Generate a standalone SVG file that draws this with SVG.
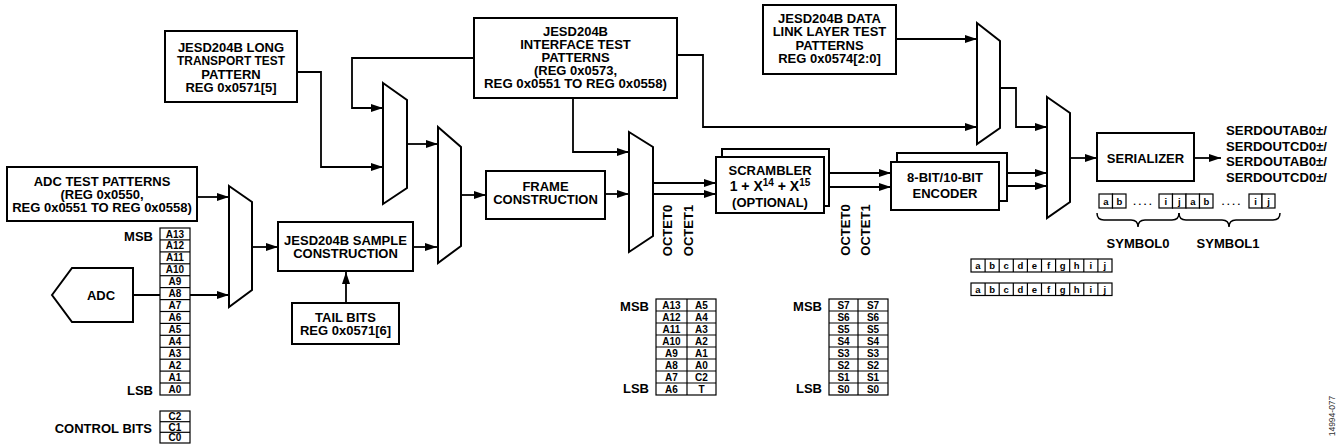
<svg xmlns="http://www.w3.org/2000/svg" width="1339" height="448" viewBox="0 0 1339 448">
<defs>
<marker id="arr" markerUnits="userSpaceOnUse" markerWidth="13" markerHeight="9" refX="12" refY="4.5" orient="auto">
<path d="M0,0.5 L12,4.5 L0,8.5 z" fill="#000"/>
</marker>
<style>
.box{fill:#fff;stroke:#000;stroke-width:2}
.mux{fill:#fff;stroke:#000;stroke-width:2;stroke-linejoin:miter}
.ln{fill:none;stroke:#000;stroke-width:1.8}
.la{fill:none;stroke:#000;stroke-width:1.8;marker-end:url(#arr)}
.t{font-family:"Liberation Sans",Arial,sans-serif;font-weight:bold;font-size:13px;fill:#000;text-anchor:middle}
.tl{font-family:"Liberation Sans",Arial,sans-serif;font-weight:bold;font-size:13px;fill:#000;text-anchor:end}
.ts{font-family:"Liberation Sans",Arial,sans-serif;font-weight:bold;font-size:13px;fill:#000;text-anchor:start}
.cell{fill:#fff;stroke:#000;stroke-width:1.2}
.ct{font-family:"Liberation Sans",Arial,sans-serif;font-weight:bold;font-size:10px;fill:#000;text-anchor:middle}
.bt{font-family:"Liberation Sans",Arial,sans-serif;font-weight:bold;font-size:9.5px;fill:#000;text-anchor:middle}
.brace{fill:none;stroke:#000;stroke-width:1.5}
</style>
</defs>
<rect width="1339" height="448" fill="#fff"/>

<g id="connectors">
<line class="la" x1="197" y1="197" x2="229" y2="197"/>
<line class="la" x1="133" y1="295" x2="229" y2="295"/>
<line class="la" x1="252" y1="247" x2="278" y2="247"/>
<line class="la" x1="413" y1="247" x2="437" y2="247"/>
<line class="la" x1="346" y1="303" x2="346" y2="272"/>
<polyline class="la" points="297,72 321,72 321,167 383,167"/>
<polyline class="la" points="474,58 352,58 352,108 383,108"/>
<line class="la" x1="407" y1="144" x2="438" y2="144"/>
<line class="la" x1="461" y1="195" x2="486" y2="195"/>
<line class="la" x1="605" y1="194" x2="629" y2="194"/>
<polyline class="la" points="573,98 573,152 629,152"/>
<polyline class="la" points="677,55 703,55 703,127 977,127"/>
<line class="la" x1="653" y1="183" x2="716" y2="183"/>
<line class="la" x1="653" y1="194" x2="716" y2="194"/>
<line class="la" x1="829" y1="173" x2="891" y2="173"/>
<line class="la" x1="829" y1="187" x2="891" y2="187"/>
<line class="la" x1="896" y1="39" x2="977" y2="39"/>
<polyline class="la" points="1000,88 1016,88 1016,127 1047,127"/>
<line class="la" x1="1007" y1="173" x2="1047" y2="173"/>
<line class="la" x1="1007" y1="186" x2="1047" y2="186"/>
<line class="la" x1="1070" y1="158" x2="1097" y2="158"/>
<line class="la" x1="1194" y1="158" x2="1221" y2="158"/>
</g>

<g id="mux1"><polygon class="mux" points="229,186 252,202 252,290 229,307"/></g>
<g id="mux2"><polygon class="mux" points="383,83 407,100 407,188 383,204"/></g>
<g id="mux3"><polygon class="mux" points="438,127 461,147 461,246 438,263"/></g>
<g id="mux4"><polygon class="mux" points="629,132 653,147 653,236 629,252"/></g>
<g id="mux5"><polygon class="mux" points="977,23 1000,41 1000,128 977,144"/></g>
<g id="mux6"><polygon class="mux" points="1047,97 1070,113 1070,202 1047,218"/></g>

<g id="adc-test-patterns">
<rect class="box" x="7" y="167" width="190" height="54"/>
<text class="t" x="102" y="185.5">ADC TEST PATTERNS</text>
<text class="t" x="102" y="198.5">(REG 0x0550,</text>
<text class="t" x="102" y="211.5">REG 0x0551 TO REG 0x0558)</text>
</g>

<g id="adc">
<polygon class="box" points="52,295 72,268 133,268 133,322 72,322"/>
<text class="t" x="101" y="299.5">ADC</text>
</g>

<g id="adc-bits">
<rect class="cell" x="160" y="228" width="30" height="167"/>
<g class="ln" style="stroke-width:1.2">
<line x1="160" y1="239.9" x2="190" y2="239.9"/>
<line x1="160" y1="251.9" x2="190" y2="251.9"/>
<line x1="160" y1="263.8" x2="190" y2="263.8"/>
<line x1="160" y1="275.7" x2="190" y2="275.7"/>
<line x1="160" y1="287.6" x2="190" y2="287.6"/>
<line x1="160" y1="299.6" x2="190" y2="299.6"/>
<line x1="160" y1="311.5" x2="190" y2="311.5"/>
<line x1="160" y1="323.4" x2="190" y2="323.4"/>
<line x1="160" y1="335.3" x2="190" y2="335.3"/>
<line x1="160" y1="347.3" x2="190" y2="347.3"/>
<line x1="160" y1="359.2" x2="190" y2="359.2"/>
<line x1="160" y1="371.1" x2="190" y2="371.1"/>
<line x1="160" y1="383.0" x2="190" y2="383.0"/>
</g>
<text class="ct" x="175" y="237.5">A13</text>
<text class="ct" x="175" y="249.4">A12</text>
<text class="ct" x="175" y="261.3">A11</text>
<text class="ct" x="175" y="273.2">A10</text>
<text class="ct" x="175" y="285.2">A9</text>
<text class="ct" x="175" y="297.1">A8</text>
<text class="ct" x="175" y="309">A7</text>
<text class="ct" x="175" y="320.9">A6</text>
<text class="ct" x="175" y="332.9">A5</text>
<text class="ct" x="175" y="344.8">A4</text>
<text class="ct" x="175" y="356.7">A3</text>
<text class="ct" x="175" y="368.6">A2</text>
<text class="ct" x="175" y="380.6">A1</text>
<text class="ct" x="175" y="392.5">A0</text>
<text class="tl" x="153" y="240.5">MSB</text>
<text class="tl" x="153" y="394.5">LSB</text>
</g>

<g id="control-bits">
<rect class="cell" x="160" y="411" width="30" height="32"/>
<line class="ln" style="stroke-width:1.2" x1="160" y1="421.7" x2="190" y2="421.7"/>
<line class="ln" style="stroke-width:1.2" x1="160" y1="432.3" x2="190" y2="432.3"/>
<text class="ct" x="175" y="420">C2</text>
<text class="ct" x="175" y="430.5">C1</text>
<text class="ct" x="175" y="441">C0</text>
<text class="tl" x="152" y="432.5">CONTROL BITS</text>
</g>

<g id="long-transport">
<rect class="box" x="165" y="31" width="132" height="71"/>
<text class="t" x="231" y="51.5">JESD204B LONG</text>
<text class="t" x="231" y="65" textLength="108" lengthAdjust="spacingAndGlyphs">TRANSPORT TEST</text>
<text class="t" x="231" y="78.5">PATTERN</text>
<text class="t" x="231" y="92">REG 0x0571[5]</text>
</g>

<g id="sample-construction">
<rect class="box" x="278" y="222" width="135" height="49"/>
<text class="t" x="345.5" y="245">JESD204B SAMPLE</text>
<text class="t" x="345.5" y="258">CONSTRUCTION</text>
</g>

<g id="tail-bits">
<rect class="box" x="292" y="303" width="107" height="41"/>
<text class="t" x="345.5" y="321.5">TAIL BITS</text>
<text class="t" x="345.5" y="334.5">REG 0x0571[6]</text>
</g>

<g id="interface-test">
<rect class="box" x="474" y="18" width="203" height="80"/>
<text class="t" x="575.5" y="35.5">JESD204B</text>
<text class="t" x="575.5" y="48.5">INTERFACE TEST</text>
<text class="t" x="575.5" y="61.5">PATTERNS</text>
<text class="t" x="575.5" y="75">(REG 0x0573,</text>
<text class="t" x="575.5" y="88" textLength="183" lengthAdjust="spacingAndGlyphs">REG 0x0551 TO REG 0x0558)</text>
</g>

<g id="frame-construction">
<rect class="box" x="486" y="171" width="119" height="48"/>
<text class="t" x="545.5" y="190.5">FRAME</text>
<text class="t" x="545.5" y="203.5">CONSTRUCTION</text>
</g>

<g id="octet-labels-1">
<text class="t" transform="translate(672,230.5) rotate(-90)">OCTET0</text>
<text class="t" transform="translate(692.5,230.5) rotate(-90)">OCTET1</text>
</g>

<g id="scrambler">
<rect class="box" x="722" y="149" width="107" height="57"/>
<rect class="box" x="716" y="157" width="108" height="56"/>
<text class="t" x="770" y="174.5">SCRAMBLER</text>
<text class="t" x="770" y="190.5" style="font-size:14px">1 + X<tspan font-size="10" dy="-5">14</tspan><tspan dy="5"> + X</tspan><tspan font-size="10" dy="-5">15</tspan></text>
<text class="t" x="770" y="206.5">(OPTIONAL)</text>
</g>

<g id="octet-labels-2">
<text class="t" transform="translate(849.5,230) rotate(-90)">OCTET0</text>
<text class="t" transform="translate(869.5,230) rotate(-90)">OCTET1</text>
</g>

<g id="dll-test">
<rect class="box" x="763" y="5" width="133" height="69"/>
<text class="t" x="829.5" y="22.5">JESD204B DATA</text>
<text class="t" x="829.5" y="36">LINK LAYER TEST</text>
<text class="t" x="829.5" y="49.5">PATTERNS</text>
<text class="t" x="829.5" y="63">REG 0x0574[2:0]</text>
</g>

<g id="encoder">
<rect class="box" x="897" y="153" width="110" height="48"/>
<rect class="box" x="891" y="162" width="108" height="48"/>
<text class="t" x="945" y="181.5">8-BIT/10-BIT</text>
<text class="t" x="945" y="197.5">ENCODER</text>
</g>

<g id="serializer">
<rect class="box" x="1097" y="133" width="97" height="48"/>
<text class="t" x="1145.5" y="162.5">SERIALIZER</text>
</g>

<g id="serdout">
<text class="ts" x="1226" y="135" textLength="101" lengthAdjust="spacingAndGlyphs">SERDOUTAB0±/</text>
<text class="ts" x="1226" y="150.5" textLength="101" lengthAdjust="spacingAndGlyphs">SERDOUTCD0±/</text>
<text class="ts" x="1226" y="166" textLength="101" lengthAdjust="spacingAndGlyphs">SERDOUTAB0±/</text>
<text class="ts" x="1226" y="182" textLength="101" lengthAdjust="spacingAndGlyphs">SERDOUTCD0±/</text>
</g>

<g id="symbol-bits">
<rect class="cell" x="1099" y="194" width="13.5" height="14"/>
<rect class="cell" x="1112.5" y="194" width="13.5" height="14"/>
<rect class="cell" x="1159" y="194" width="13.5" height="14"/>
<rect class="cell" x="1172.5" y="194" width="13.5" height="14"/>
<rect class="cell" x="1186" y="194" width="13.5" height="14"/>
<rect class="cell" x="1199.5" y="194" width="13.5" height="14"/>
<rect class="cell" x="1249" y="194" width="13" height="14"/>
<rect class="cell" x="1262" y="194" width="13" height="14"/>
<text class="bt" x="1105.8" y="204.5">a</text>
<text class="bt" x="1119.3" y="204.5">b</text>
<text class="bt" x="1142.5" y="205">. . . .</text>
<text class="bt" x="1165.8" y="204.5">i</text>
<text class="bt" x="1179.3" y="204.5">j</text>
<text class="bt" x="1192.8" y="204.5">a</text>
<text class="bt" x="1206.3" y="204.5">b</text>
<text class="bt" x="1231" y="205">. . . .</text>
<text class="bt" x="1255.5" y="204.5">i</text>
<text class="bt" x="1268.5" y="204.5">j</text>
<path class="brace" d="M1097,213 Q1097,220 1104,220 L1131,220 Q1138,220 1138,227 Q1138,220 1145,220 L1172,220 Q1179,220 1179,213"/>
<path class="brace" d="M1179,213 Q1179,220 1186,220 L1222,220 Q1229,220 1229,227 Q1229,220 1236,220 L1273,220 Q1280,220 1280,213"/>
<text class="t" x="1138" y="248">SYMBOL0</text>
<text class="t" x="1228" y="248">SYMBOL1</text>
</g>

<g id="bit-rows">
<rect class="cell" x="971" y="259" width="141" height="13"/>
<rect class="cell" x="971" y="283" width="141" height="12.5"/>
<g class="ln" style="stroke-width:1.2">
<line x1="985.1" y1="259" x2="985.1" y2="272"/><line x1="999.2" y1="259" x2="999.2" y2="272"/><line x1="1013.3" y1="259" x2="1013.3" y2="272"/><line x1="1027.4" y1="259" x2="1027.4" y2="272"/><line x1="1041.5" y1="259" x2="1041.5" y2="272"/><line x1="1055.6" y1="259" x2="1055.6" y2="272"/><line x1="1069.7" y1="259" x2="1069.7" y2="272"/><line x1="1083.8" y1="259" x2="1083.8" y2="272"/><line x1="1097.9" y1="259" x2="1097.9" y2="272"/>
<line x1="985.1" y1="283" x2="985.1" y2="295.5"/><line x1="999.2" y1="283" x2="999.2" y2="295.5"/><line x1="1013.3" y1="283" x2="1013.3" y2="295.5"/><line x1="1027.4" y1="283" x2="1027.4" y2="295.5"/><line x1="1041.5" y1="283" x2="1041.5" y2="295.5"/><line x1="1055.6" y1="283" x2="1055.6" y2="295.5"/><line x1="1069.7" y1="283" x2="1069.7" y2="295.5"/><line x1="1083.8" y1="283" x2="1083.8" y2="295.5"/><line x1="1097.9" y1="283" x2="1097.9" y2="295.5"/>
</g>
<text class="bt" y="269"><tspan x="978">a</tspan><tspan x="992.1">b</tspan><tspan x="1006.2">c</tspan><tspan x="1020.3">d</tspan><tspan x="1034.4">e</tspan><tspan x="1048.5">f</tspan><tspan x="1062.6">g</tspan><tspan x="1076.7">h</tspan><tspan x="1090.8">i</tspan><tspan x="1104.9">j</tspan></text>
<text class="bt" y="292.5"><tspan x="978">a</tspan><tspan x="992.1">b</tspan><tspan x="1006.2">c</tspan><tspan x="1020.3">d</tspan><tspan x="1034.4">e</tspan><tspan x="1048.5">f</tspan><tspan x="1062.6">g</tspan><tspan x="1076.7">h</tspan><tspan x="1090.8">i</tspan><tspan x="1104.9">j</tspan></text>
</g>

<g id="table-a">
<rect class="cell" x="656" y="299" width="60" height="96"/>
<g class="ln" style="stroke-width:1.2">
<line x1="687" y1="299" x2="687" y2="395"/>
<line x1="656" y1="311" x2="716" y2="311"/><line x1="656" y1="323" x2="716" y2="323"/><line x1="656" y1="335" x2="716" y2="335"/><line x1="656" y1="347" x2="716" y2="347"/><line x1="656" y1="359" x2="716" y2="359"/><line x1="656" y1="371" x2="716" y2="371"/><line x1="656" y1="383" x2="716" y2="383"/>
</g>
<text class="ct" x="671.5" y="308.5">A13</text><text class="ct" x="701.5" y="308.5">A5</text>
<text class="ct" x="671.5" y="320.5">A12</text><text class="ct" x="701.5" y="320.5">A4</text>
<text class="ct" x="671.5" y="332.5">A11</text><text class="ct" x="701.5" y="332.5">A3</text>
<text class="ct" x="671.5" y="344.5">A10</text><text class="ct" x="701.5" y="344.5">A2</text>
<text class="ct" x="671.5" y="356.5">A9</text><text class="ct" x="701.5" y="356.5">A1</text>
<text class="ct" x="671.5" y="368.5">A8</text><text class="ct" x="701.5" y="368.5">A0</text>
<text class="ct" x="671.5" y="380.5">A7</text><text class="ct" x="701.5" y="380.5">C2</text>
<text class="ct" x="671.5" y="392.5">A6</text><text class="ct" x="701.5" y="392.5">T</text>
<text class="tl" x="649" y="310.5">MSB</text>
<text class="tl" x="649" y="393">LSB</text>
</g>

<g id="table-s">
<rect class="cell" x="829" y="299" width="59" height="96"/>
<g class="ln" style="stroke-width:1.2">
<line x1="858" y1="299" x2="858" y2="395"/>
<line x1="829" y1="311" x2="888" y2="311"/><line x1="829" y1="323" x2="888" y2="323"/><line x1="829" y1="335" x2="888" y2="335"/><line x1="829" y1="347" x2="888" y2="347"/><line x1="829" y1="359" x2="888" y2="359"/><line x1="829" y1="371" x2="888" y2="371"/><line x1="829" y1="383" x2="888" y2="383"/>
</g>
<text class="ct" x="843.5" y="308.5">S7</text><text class="ct" x="873" y="308.5">S7</text>
<text class="ct" x="843.5" y="320.5">S6</text><text class="ct" x="873" y="320.5">S6</text>
<text class="ct" x="843.5" y="332.5">S5</text><text class="ct" x="873" y="332.5">S5</text>
<text class="ct" x="843.5" y="344.5">S4</text><text class="ct" x="873" y="344.5">S4</text>
<text class="ct" x="843.5" y="356.5">S3</text><text class="ct" x="873" y="356.5">S3</text>
<text class="ct" x="843.5" y="368.5">S2</text><text class="ct" x="873" y="368.5">S2</text>
<text class="ct" x="843.5" y="380.5">S1</text><text class="ct" x="873" y="380.5">S1</text>
<text class="ct" x="843.5" y="392.5">S0</text><text class="ct" x="873" y="392.5">S0</text>
<text class="tl" x="822" y="310.5">MSB</text>
<text class="tl" x="822" y="393">LSB</text>
</g>

<text transform="translate(1335,416) rotate(-90)" font-family="'Liberation Sans',Arial,sans-serif" font-size="8.5" fill="#333" text-anchor="middle">14994-077</text>
</svg>
